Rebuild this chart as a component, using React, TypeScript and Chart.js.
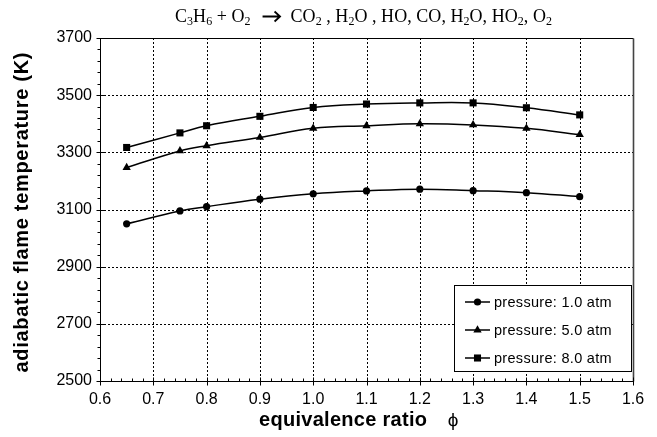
import React, { useEffect, useRef } from "react";
import { Chart, registerables } from "chart.js";

Chart.register(...registerables);

// equivalence ratio values and adiabatic flame temperatures (K) per pressure
const phi = [0.65, 0.75, 0.8, 0.9, 1.0, 1.1, 1.2, 1.3, 1.4, 1.5];
const temp1atm = [3050, 3095, 3110, 3136, 3155, 3165, 3171, 3166, 3159, 3145];
const temp5atm = [3247, 3305, 3323, 3352, 3384, 3393, 3400, 3396, 3384, 3362];
const temp8atm = [3317, 3368, 3393, 3426, 3457, 3469, 3473, 3473, 3456, 3431];

const seriesNames = ["pressure: 1.0 atm", "pressure: 5.0 atm", "pressure: 8.0 atm"];
const seriesMarkers = ["circle", "triangle", "rect"] as const;
const markerRadii = [3.6, 4.8, 5];

const xRange = [0.6, 1.6];
const xStep = 0.1;
const yRange = [2500, 3700];
const yStep = 200;

const xAxisTitle = "equivalence ratio";
const xAxisSymbol = "\u03D5";
const yAxisTitle = "adiabatic flame temperature (K)";

// reaction title, split into runs: [text, kind] where kind is normal / sub / arrow
const titleRuns: [string, "n" | "s" | "a"][] = [
  ["C", "n"], ["3", "s"], ["H", "n"], ["6", "s"], [" + O", "n"], ["2", "s"],
  ["\u2192", "a"], ["CO", "n"], ["2", "s"], [" , H", "n"], ["2", "s"],
  ["O , HO, CO, H", "n"], ["2", "s"], ["O, HO", "n"], ["2", "s"],
  [", O", "n"], ["2", "s"],
];

const SANS = "'Liberation Sans', Arial, sans-serif";
const SERIF = "'Liberation Serif', 'Times New Roman', serif";

type Ctx = CanvasRenderingContext2D & { letterSpacing?: string };

function drawMarker(ctx: Ctx, style: string, x: number, y: number, r: number) {
  ctx.beginPath();
  if (style === "circle") {
    ctx.arc(x, y, r, 0, Math.PI * 2);
  } else if (style === "triangle") {
    const w = r * 0.866;
    ctx.moveTo(x, y - r);
    ctx.lineTo(x + w, y + r * 0.5);
    ctx.lineTo(x - w, y + r * 0.5);
    ctx.closePath();
  } else {
    const s = r * Math.SQRT1_2;
    ctx.rect(x - s, y - s, 2 * s, 2 * s);
  }
  ctx.fill();
}

// draws text centred on (cx, cy), spaced out so it spans targetW pixels
function drawSpanned(ctx: Ctx, text: string, cx: number, cy: number, targetW: number) {
  ctx.letterSpacing = "0px";
  const w = ctx.measureText(text).width;
  const ls = (targetW - w) / Math.max(1, text.length - 1);
  ctx.letterSpacing = `${ls}px`;
  const total = w + ls * (text.length - 1);
  ctx.textAlign = "left";
  ctx.textBaseline = "middle";
  ctx.fillText(text, cx - total / 2, cy);
  ctx.letterSpacing = "0px";
}

const ARROW_W = 40;

const decorations = {
  id: "decorations",
  beforeDatasetsDraw(chart: any) {
    const { ctx, chartArea: a, scales } = chart;
    const xs = scales.x;
    const ys = scales.y;
    ctx.save();
    ctx.strokeStyle = "#000";
    ctx.lineWidth = 1;
    ctx.setLineDash([2, 2]);
    for (const t of xs.ticks) {
      const px = Math.round(xs.getPixelForValue(t.value)) + 0.5;
      if (px <= a.left + 1 || px >= a.right - 1) continue;
      ctx.beginPath();
      ctx.moveTo(px, a.top);
      ctx.lineTo(px, a.bottom);
      ctx.stroke();
    }
    for (const t of ys.ticks) {
      const py = Math.round(ys.getPixelForValue(t.value)) + 0.5;
      if (py <= a.top + 1 || py >= a.bottom - 1) continue;
      ctx.beginPath();
      ctx.moveTo(a.left, py);
      ctx.lineTo(a.right, py);
      ctx.stroke();
    }
    ctx.restore();
  },
  afterDraw(chart: any) {
    const { chartArea: a, scales } = chart;
    const ctx = chart.ctx as Ctx;
    const xs = scales.x;
    const ys = scales.y;
    ctx.save();
    ctx.setLineDash([]);
    ctx.strokeStyle = "#000";
    ctx.fillStyle = "#000";
    ctx.lineWidth = 1;

    const L = Math.round(a.left) + 0.5;
    const R = Math.round(a.right) + 0.5;
    const T = Math.round(a.top) + 0.5;
    const B = Math.round(a.bottom) + 0.5;

    // plot frame
    ctx.beginPath();
    ctx.moveTo(L, B);
    ctx.lineTo(L, T);
    ctx.lineTo(R, T);
    ctx.moveTo(L, B);
    ctx.lineTo(R, B);
    ctx.stroke();
    ctx.strokeStyle = "#444";
    ctx.lineWidth = 1.6;
    ctx.beginPath();
    ctx.moveTo(R, T);
    ctx.lineTo(R, B);
    ctx.stroke();
    ctx.strokeStyle = "#000";
    ctx.lineWidth = 1;

    // tick marks
    ctx.beginPath();
    for (let v = xRange[0]; v <= xRange[1] + 1e-9; v += xStep / 5) {
      const px = Math.round(xs.getPixelForValue(v)) + 0.5;
      const major = Math.abs(Math.round(v / xStep) * xStep - v) < 1e-6;
      ctx.moveTo(px, B + (major ? 4 : 0));
      ctx.lineTo(px, B - (major ? 4 : 3));
    }
    for (let v = yRange[0]; v <= yRange[1] + 1e-9; v += yStep / 5) {
      const py = Math.round(ys.getPixelForValue(v)) + 0.5;
      const major = (v - yRange[0]) % yStep === 0;
      ctx.moveTo(L - (major ? 4 : 3), py);
      ctx.lineTo(L + (major ? 4 : 0), py);
    }
    ctx.stroke();

    // reaction title with subscripts, spread to span the target width
    const big = `18px ${SERIF}`;
    const small = `12px ${SERIF}`;
    let natural = 0;
    let chars = 0;
    for (const [txt, kind] of titleRuns) {
      if (kind === "a") {
        natural += ARROW_W;
        continue;
      }
      ctx.font = kind === "s" ? small : big;
      natural += ctx.measureText(txt).width;
      chars += txt.length;
    }
    const titleW = 377;
    const ls = Math.max(0, (titleW - natural) / chars);
    let tx = 363.5 - titleW / 2;
    const baseY = 22;
    ctx.textAlign = "left";
    ctx.textBaseline = "alphabetic";
    ctx.letterSpacing = `${ls}px`;
    for (const [txt, kind] of titleRuns) {
      if (kind === "a") {
        // reaction arrow
        const ay = baseY - 5.5;
        ctx.lineWidth = 1.8;
        ctx.beginPath();
        ctx.moveTo(tx + 12, ay);
        ctx.lineTo(tx + 29, ay);
        ctx.moveTo(tx + 24, ay - 5);
        ctx.lineTo(tx + 29.5, ay);
        ctx.lineTo(tx + 24, ay + 5);
        ctx.stroke();
        tx += ARROW_W;
        continue;
      }
      ctx.font = kind === "s" ? small : big;
      ctx.fillText(txt, tx, kind === "s" ? baseY + 3 : baseY);
      tx += ctx.measureText(txt).width;
    }
    ctx.letterSpacing = "0px";
    ctx.lineWidth = 1;

    // y axis title
    ctx.save();
    ctx.translate(22, (a.top + a.bottom) / 2 + 3);
    ctx.rotate(-Math.PI / 2);
    ctx.font = `bold 20px ${SANS}`;
    drawSpanned(ctx, yAxisTitle, 0, 0, 320);
    ctx.restore();

    // x axis title and phi symbol
    ctx.font = `bold 20px ${SANS}`;
    drawSpanned(ctx, xAxisTitle, 343, 420, 168);
    ctx.font = `19px ${SANS}`;
    ctx.textAlign = "center";
    ctx.textBaseline = "middle";
    ctx.fillText(xAxisSymbol, 453, 421);

    // legend box
    const lx = 454.5, ly = 285.5, lw = 177, lh = 86;
    ctx.fillStyle = "#fff";
    ctx.fillRect(lx, ly, lw, lh);
    ctx.strokeStyle = "#000";
    ctx.lineWidth = 1;
    ctx.strokeRect(lx, ly, lw, lh);
    ctx.fillStyle = "#000";
    ctx.font = `14.5px ${SANS}`;
    const rows = [302, 330, 358];
    seriesNames.forEach((name, i) => {
      const ry = rows[i];
      ctx.lineWidth = 1.5;
      ctx.beginPath();
      ctx.moveTo(465, ry);
      ctx.lineTo(490, ry);
      ctx.stroke();
      drawMarker(ctx, seriesMarkers[i], 477.5, ry, markerRadii[i]);
      ctx.textAlign = "left";
      ctx.textBaseline = "middle";
      ctx.letterSpacing = "0.3px";
      ctx.fillText(name, 494, ry + 0.5);
      ctx.letterSpacing = "0px";
    });

    ctx.restore();
  },
};

export default function App() {
  const canvasRef = useRef<HTMLCanvasElement | null>(null);

  useEffect(() => {
    const canvas = canvasRef.current;
    if (!canvas) return;
    const series = [temp1atm, temp5atm, temp8atm];
    const chart = new Chart(canvas, {
      type: "scatter",
      data: {
        datasets: series.map((vals, i) => ({
          label: seriesNames[i],
          data: phi.map((p, j) => ({ x: p, y: vals[j] })),
          showLine: true,
          tension: 0.4,
          borderColor: "#000",
          borderWidth: 1.5,
          backgroundColor: "#000",
          pointStyle: seriesMarkers[i],
          pointRadius: markerRadii[i],
          pointBackgroundColor: "#000",
          pointBorderColor: "#000",
          pointBorderWidth: 0,
        })),
      },
      options: {
        responsive: false,
        animation: false,
        devicePixelRatio: 1,
        layout: { padding: { top: 38, right: 24, left: 0, bottom: 0 } },
        plugins: {
          legend: { display: false },
          title: { display: false },
          tooltip: { enabled: false },
        },
        scales: {
          x: {
            type: "linear",
            min: xRange[0],
            max: xRange[1],
            grid: { display: false, drawTicks: false },
            border: { display: false },
            ticks: {
              stepSize: xStep,
              color: "#000",
              padding: 9,
              maxRotation: 0,
              font: { family: SANS, size: 16 },
              callback: (v: any) => Number(v).toFixed(1),
            },
            afterFit: (s: any) => {
              s.height = 56;
            },
          },
          y: {
            type: "linear",
            min: yRange[0],
            max: yRange[1],
            grid: { display: false, drawTicks: false },
            border: { display: false },
            ticks: {
              stepSize: yStep,
              color: "#000",
              padding: 8,
              font: { family: SANS, size: 16 },
              callback: (v: any) => String(v),
            },
            afterFit: (s: any) => {
              s.width = 100;
            },
          },
        },
      },
      plugins: [decorations],
    });
    return () => chart.destroy();
  }, []);

  return (
    <div style={{ position: "fixed", left: 0, top: 0, width: 657, height: 437, background: "#fff" }}>
      <canvas ref={canvasRef} width={657} height={437} style={{ display: "block" }} />
    </div>
  );
}
